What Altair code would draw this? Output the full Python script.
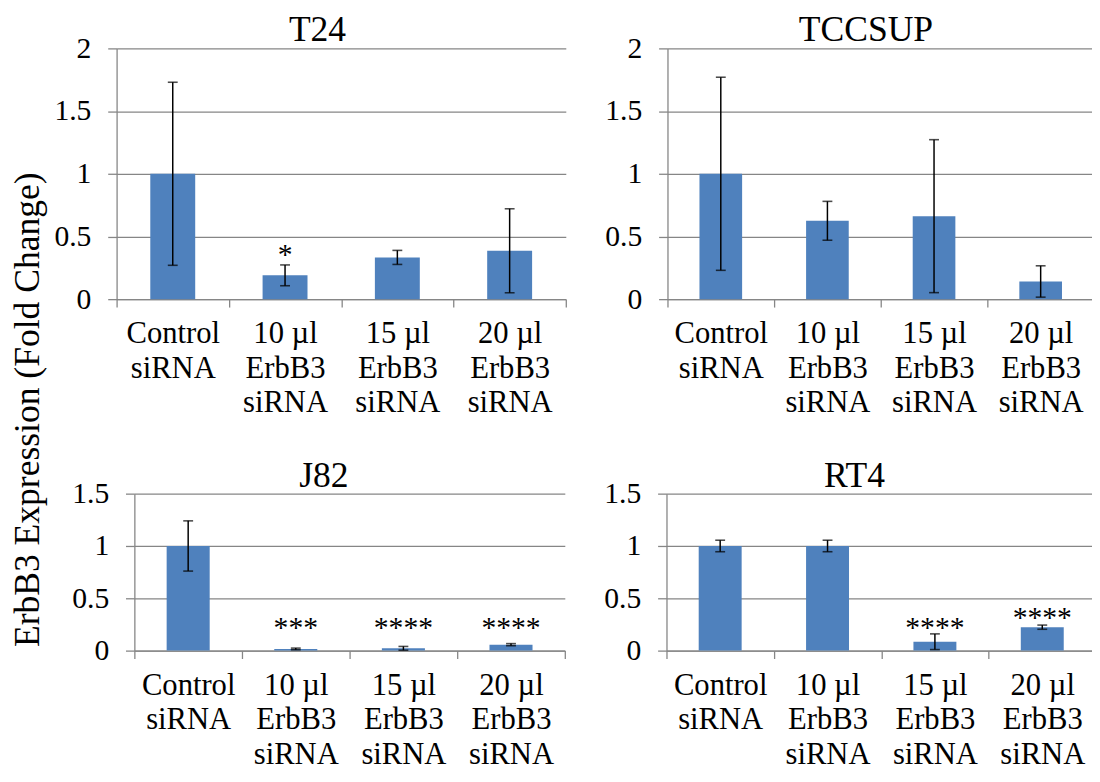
import altair as alt
import pandas as pd

FONT = "Liberation Serif"
BAR = "#4F81BD"
GRID = "#868686"

conditions = ["Control|siRNA", "10 µl|ErbB3|siRNA", "15 µl|ErbB3|siRNA", "20 µl|ErbB3|siRNA"]

t24_mean = [1.0, 0.19, 0.333, 0.386]
t24_err = [0.73, 0.083, 0.056, 0.335]
t24_sig = ["", "*", "", ""]
t24_sig_y = [0, 0.40, 0, 0]

tcc_mean = [1.0, 0.625, 0.662, 0.141]
tcc_err = [0.77, 0.155, 0.61, 0.125]
tcc_sig = ["", "", "", ""]
tcc_sig_y = [0, 0, 0, 0]

j82_mean = [1.0, 0.016, 0.022, 0.057]
j82_err = [0.24, 0.008, 0.018, 0.01]
j82_sig = ["", "***", "****", "****"]
j82_sig_y = [0, 0.275, 0.275, 0.275]

rt4_mean = [1.0, 1.0, 0.085, 0.224]
rt4_err = [0.055, 0.055, 0.075, 0.02]
rt4_sig = ["", "", "****", "****"]
rt4_sig_y = [0, 0, 0.275, 0.37]


def panel(title, means, errs, sig, sig_y, ymax, width, height, title_dx, y_extent=None):
    df = pd.DataFrame({
        "cond": conditions,
        "mean": means,
        "lo": [m - e for m, e in zip(means, errs)],
        "hi": [m + e for m, e in zip(means, errs)],
        "sig": sig,
        "sig_y": sig_y,
    })
    base = alt.Chart(df)
    x_axis = alt.Axis(
        title=None, labelAngle=0, labelFont=FONT, labelFontSize=31, labelLineHeight=35,
        labelColor="black", labelPadding=12, labelExpr="split(datum.label, '|')",
        labelBaseline="top",
        tickBand="extent", tickSize=8, tickColor=GRID, tickWidth=1.3,
        domainColor=GRID, domainWidth=1.3, grid=False,
    )
    x = alt.X("cond:N", sort=conditions, scale=alt.Scale(paddingInner=0, paddingOuter=0), axis=x_axis)
    xs = alt.X("cond:N", sort=conditions)
    vals = [v / 2 for v in range(int(ymax * 2) + 1)]
    ykw = dict(
        title=None, values=vals, format="~g", labelFont=FONT, labelFontSize=30,
        labelColor="black", labelPadding=17, tickSize=9, tickColor=GRID, tickWidth=1.3,
        domainColor=GRID, domainWidth=1.3, grid=True, gridColor=GRID, gridWidth=1.3,
    )
    if y_extent is not None:
        ykw["minExtent"] = y_extent
    y = alt.Y("mean:Q", scale=alt.Scale(domain=[0, ymax], nice=False), axis=alt.Axis(**ykw))
    bars = base.mark_bar(color=BAR, width=alt.RelativeBandSize(0.4)).encode(x=x, y=y)
    rule = base.mark_rule(color="black", strokeWidth=1.5).encode(
        x=xs, y=alt.Y("lo:Q", title=None), y2="hi:Q")
    lo_tick = base.mark_tick(color="black", thickness=1.6, size=10).encode(
        x=xs, y=alt.Y("lo:Q", title=None))
    hi_tick = base.mark_tick(color="black", thickness=1.6, size=10).encode(
        x=xs, y=alt.Y("hi:Q", title=None))
    txt = base.mark_text(font=FONT, fontSize=30, color="black", baseline="alphabetic", dy=15).encode(
        x=xs, y=alt.Y("sig_y:Q", title=None), text="sig:N")
    return alt.layer(bars, rule, lo_tick, hi_tick, txt).properties(
        width=width, height=height,
        title=alt.TitleParams(text=title, font=FONT, fontSize=36, fontWeight="normal",
                              color="black", offset=10, dx=title_dx, dy=26, frame="group"),
    )


def spacer(w):
    return alt.Chart(pd.DataFrame({"s": [0]})).mark_point(opacity=0).properties(width=w, height=1)


t24 = panel("T24", t24_mean, t24_err, t24_sig, t24_sig_y, 2, 455, 254, -24)
tcc = panel("TCCSUP", tcc_mean, tcc_err, tcc_sig, tcc_sig_y, 2, 432, 254, -15, y_extent=102)
j82 = panel("J82", j82_mean, j82_err, j82_sig, j82_sig_y, 1.5, 436, 159, -26)
rt4 = panel("RT4", rt4_mean, rt4_err, rt4_sig, rt4_sig_y, 1.5, 435, 159, -27, y_extent=102)

row1 = alt.hconcat(spacer(1), t24, tcc, spacing=0)
row2 = alt.hconcat(spacer(22), j82, rt4, spacing=0)

chart = alt.vconcat(row1, row2, spacing=41).properties(
    title=alt.TitleParams(text="ErbB3 Expression (Fold Change)", orient="left", anchor="middle",
                          font=FONT, fontSize=36, fontWeight="normal", color="black",
                          offset=0, dx=-19),
    padding={"left": 2, "top": 0, "right": -5, "bottom": -4},
).configure_view(stroke=None)

chart.save("out.html", embed_options={"renderer": "svg", "actions": False})
